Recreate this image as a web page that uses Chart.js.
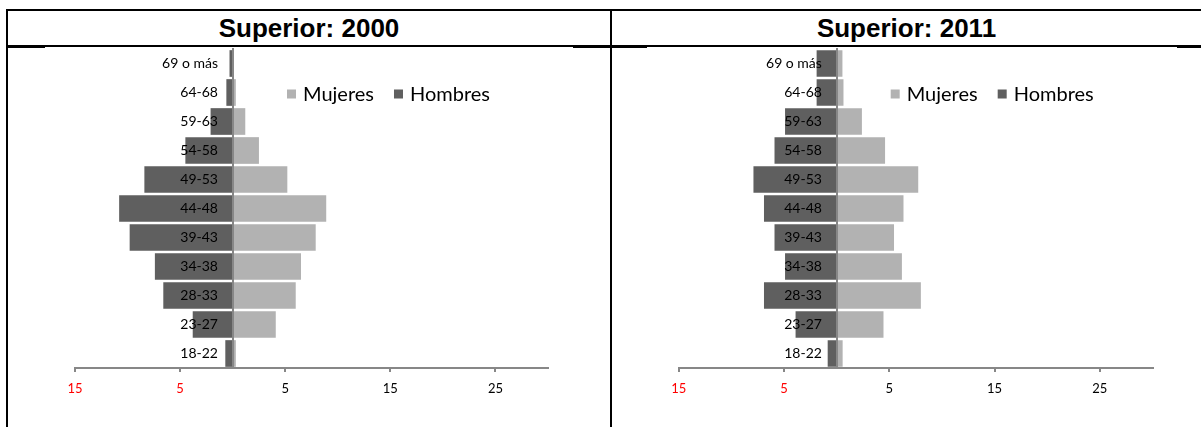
<!DOCTYPE html>
<html>
<head>
<meta charset="utf-8">
<script src="https://cdn.jsdelivr.net/npm/chart.js@4/dist/chart.umd.min.js"></script>
<style>
  html, body { margin: 0; padding: 0; background: #fff; }
  body { width: 1201px; height: 427px; position: relative; overflow: hidden; }
  .ln { position: absolute; background: #000; }
  .title { position: absolute; top: 11px; height: 34px; line-height: 34px; text-align: center;
           font-family: "Liberation Sans", Arial, sans-serif; font-weight: bold; font-size: 26px; color: #000; }
  canvas { position: absolute; }
</style>
</head>
<body>
<div class="ln" style="left:6px;top:9px;width:1195px;height:2px"></div>
<div class="ln" style="left:6px;top:45px;width:1195px;height:2px"></div>
<div class="ln" style="left:6px;top:9px;width:2px;height:418px"></div>
<div class="ln" style="left:610px;top:9px;width:2px;height:418px"></div>
<div class="ln" style="left:8px;top:47px;width:37px;height:1px"></div>
<div class="ln" style="left:573px;top:47px;width:37px;height:1px"></div>
<div class="ln" style="left:612px;top:47px;width:35px;height:1px"></div>
<div class="ln" style="left:1177px;top:47px;width:24px;height:1px"></div>
<div class="title" id="t1" style="left:8px;width:602px"></div>
<div class="title" id="t2" style="left:612px;width:589px"></div>
<canvas id="c1" width="600" height="390" style="left:9px;top:37px"></canvas>
<canvas id="c2" width="589" height="390" style="left:612px;top:37px"></canvas>
<script>
// ---- data ----
const ageGroups = ["69 o más","64-68","59-63","54-58","49-53","44-48","39-43","34-38","28-33","23-27","18-22"];
const mujeres2000 = [0.1, 0.3, 1.2, 2.5, 5.2, 8.9, 7.9, 6.5, 6.0, 4.1, 0.3];
const hombres2000 = [-0.3, -0.6, -2.1, -4.5, -8.4, -10.8, -9.8, -7.4, -6.6, -3.8, -0.7];
const mujeres2011 = [0.55, 0.65, 2.4, 4.6, 7.75, 6.35, 5.45, 6.2, 8.0, 4.45, 0.57];
const hombres2011 = [-1.9, -1.9, -4.9, -5.9, -7.9, -6.9, -5.9, -4.9, -6.9, -3.9, -0.85];
const xTickValues = [-15, -5, 5, 15, 25];
const titles = ["Superior: 2000", "Superior: 2011"];
const seriesNames = ["Mujeres", "Hombres"];

const colorMujeres = "#b2b2b2";
const colorHombres = "#5f5f5f";
const axisGray = "#878787";
const FONT = "Lato, 'Open Sans', sans-serif";

document.getElementById('t1').textContent = titles[0];
document.getElementById('t2').textContent = titles[1];

const legendPlugin = {
  id: 'panelLegend',
  afterDraw(chart, args, opts) {
    const ctx = chart.ctx;
    let x = chart.chartArea.left + opts.offsetX;
    const y = opts.y;
    ctx.save();
    ctx.font = opts.fontSize + "px " + FONT;
    ctx.textBaseline = 'middle';
    ctx.textAlign = 'left';
    chart.data.datasets.forEach(ds => {
      ctx.fillStyle = ds.backgroundColor;
      ctx.fillRect(x, y - 4.5, 9, 9);
      x += 16;
      ctx.fillStyle = '#000';
      ctx.fillText(ds.label, x, y + 1);
      x += ctx.measureText(ds.label).width + 20;
    });
    ctx.restore();
  }
};

function makeChart(id, muj, hom, padLeft, padRight) {
  return new Chart(document.getElementById(id), {
    type: 'bar',
    data: {
      labels: ageGroups,
      datasets: [
        { label: seriesNames[0], data: muj, backgroundColor: colorMujeres,
          barPercentage: 0.92, categoryPercentage: 1.0 },
        { label: seriesNames[1], data: hom, backgroundColor: colorHombres,
          barPercentage: 0.92, categoryPercentage: 1.0 }
      ]
    },
    plugins: [legendPlugin],
    options: {
      indexAxis: 'y',
      responsive: false,
      animation: false,
      devicePixelRatio: 1,
      layout: { padding: { left: padLeft, right: padRight, top: 12, bottom: 24 } },
      plugins: {
        legend: { display: false },
        tooltip: { enabled: false },
        panelLegend: { offsetX: 212, y: 57, fontSize: 20 }
      },
      scales: {
        x: {
          type: 'linear',
          min: -15, max: 30,
          stacked: true,
          afterBuildTicks: s => { s.ticks = xTickValues.map(v => ({ value: v })); },
          afterFit: s => { s.height = 35; },
          grid: { drawOnChartArea: false, drawTicks: true, tickLength: 4, color: axisGray, lineWidth: 2 },
          border: { display: true, color: axisGray, width: 2 },
          ticks: {
            autoSkip: false,
            maxRotation: 0,
            padding: 9,
            font: { family: FONT, size: 13 },
            color: c => (c.tick && c.tick.value < 0) ? '#ff0000' : '#000000',
            callback: v => String(Math.abs(v))
          }
        },
        y: {
          type: 'category',
          stacked: true,
          offset: true,
          position: { x: 0 },
          grid: { display: true, drawOnChartArea: false, drawTicks: false },
          border: { display: true, color: axisGray, width: 2, z: 1 },
          afterFit: s => { s.paddingTop = 0; s.paddingBottom = 0; },
          ticks: { display: false }
        },
        yLabels: {
          type: 'category',
          axis: 'y',
          offset: true,
          position: { x: -1.4 },
          grid: { display: false, drawOnChartArea: false, drawTicks: false },
          border: { display: false },
          afterFit: s => { s.paddingTop = 0; s.paddingBottom = 0; },
          ticks: {
            z: 1,
            padding: 0,
            font: { family: FONT, size: 14 },
            color: '#000'
          }
        }
      }
    }
  });
}

makeChart('c1', mujeres2000, hombres2000, 66, 61);
makeChart('c2', mujeres2011, hombres2011, 66.7, 48.5);
</script>
</body>
</html>
